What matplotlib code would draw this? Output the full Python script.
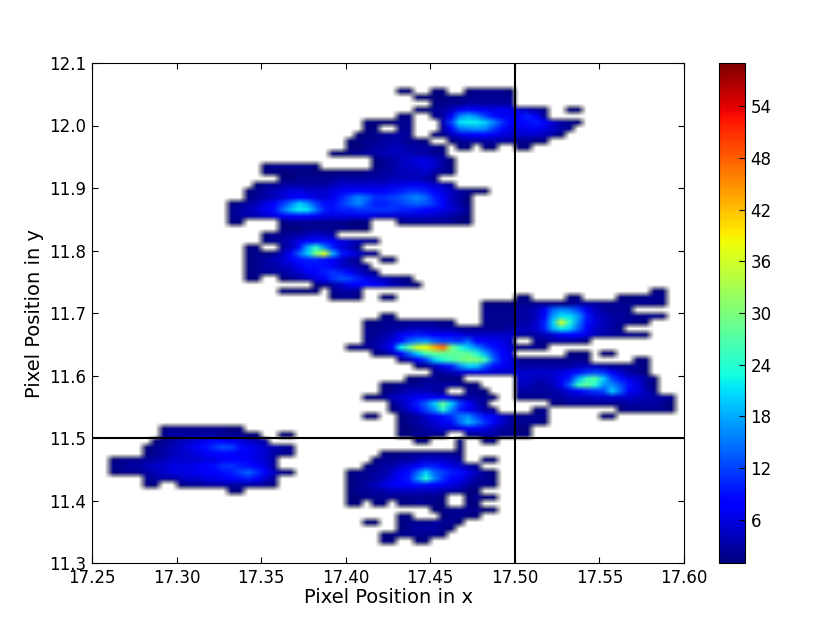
import matplotlib
matplotlib.use('Agg')
import matplotlib.pyplot as plt
import numpy as np

# bin edges of the 2d histogram
x_min, x_max, n_x = 17.25, 17.60, 70
y_min, y_max, n_y = 11.3, 12.1, 80

# counts, each entry is (row, first column, counts)
lower_left = [
    (21, 8, [1, 2, 2, 2, 2, 2, 2, 2, 1, 1]),
    (20, 8, [2, 3, 3, 3, 3, 3, 3, 2, 2, 2, 1, 1]), (20, 22, [1, 1]),
    (19, 7, [1, 2, 3, 4, 5, 6, 7, 9, 8, 7, 6, 5, 4, 3]),
    (18, 6, [1, 2, 3, 4, 5, 6, 7, 9, 11, 13, 12, 9, 7, 6, 5, 4, 3, 2]),
    (17, 6, [1, 2, 3, 4, 5, 5, 6, 7, 8, 8, 8, 7, 7, 6, 5, 3, 2, 2]),
    (16, 2, [1, 2, 2, 2, 3, 3, 4, 5, 5, 5, 5, 6, 6, 7, 8, 8, 7, 6, 5, 3]),
    (15, 2, [2, 2, 3, 3, 4, 5, 5, 6, 6, 6, 7, 8, 9, 11, 11, 10, 9, 8, 6, 3]),
    (14, 2, [1, 2, 2, 2, 3, 4, 5, 6, 6, 6, 7, 7, 8, 9, 10, 12, 14, 11, 8, 4, 2, 1]),
    (13, 6, [2, 3, 3, 3, 4, 5, 5, 6, 6, 7, 8, 9, 10, 8, 5, 3]),
    (12, 6, [1, 1]), (12, 10, [1, 2, 2, 3, 3, 3, 3, 3, 3, 3, 2, 1]),
    (11, 16, [1, 1]),
]

bottom_center = [
    (19, 38, [1, 1]), (19, 43, [1]), (19, 46, [1, 1]),
    (18, 43, [1]),
    (17, 34, [1, 1, 1, 2, 2, 2, 2, 2, 2, 1]),
    (16, 33, [1, 2, 2, 3, 3, 4, 5, 5, 5, 4, 3]), (16, 46, [1, 1]),
    (15, 32, [1, 2, 3, 3, 5, 6, 8, 10, 10, 8, 6, 5, 3, 2]),
    (14, 30, [1, 2, 2, 3, 3, 5, 7, 9, 14, 20, 14, 12, 10, 9, 6, 4, 2, 1]),
    (13, 30, [1, 2, 2, 3, 4, 6, 8, 10, 17, 24, 16, 11, 8, 7, 5, 3, 2, 1]),
    (12, 30, [1, 2, 3, 4, 6, 7, 8, 8, 9, 9, 8, 7, 6, 5, 3, 2, 2, 1]),
    (11, 30, [1, 2, 2, 3, 3, 4, 4, 4, 4, 4, 4, 3, 3, 2, 1, 1]),
    (10, 30, [1, 1, 2, 2, 2, 2, 2, 2, 2, 2, 2, 1]), (10, 44, [1, 2, 1, 1]),
    (9, 30, [1, 1, 0, 1, 1, 0, 1, 1, 2, 2, 1, 1]), (9, 44, [1, 1]),
    (8, 40, [1, 1, 2, 2, 2, 2, 1, 1]),
    (7, 36, [1, 1]), (7, 41, [1, 2, 2, 1, 1]),
    (6, 32, [1, 1]), (6, 36, [1, 2, 2, 2, 3, 2, 2, 1]),
    (5, 36, [1, 2, 3, 3, 3, 2, 1]),
    (4, 34, [1, 1, 2, 2, 2, 2, 2, 1]),
    (3, 34, [1, 1]), (3, 38, [1, 1]),
]

mid_lower = [
    (29, 37, [1, 1, 2, 2, 1, 1, 1]),
    (28, 34, [1, 1, 2, 2, 2, 3, 3, 3, 3, 2, 1, 1]),
    (27, 34, [1, 2, 3, 4, 4, 4, 3, 2]), (27, 44, [2, 2, 1]),
    (26, 32, [1, 1, 2, 4, 5, 6, 7, 7, 7, 7, 5, 3, 3, 3, 2, 1]),
    (25, 35, [2, 4, 6, 10, 14, 20, 28, 20, 12, 8, 4, 2]),
    (24, 35, [1, 3, 5, 8, 12, 16, 24, 16, 10, 7, 5, 3, 2]),
    (23, 32, [1, 1]), (23, 36, [1, 2, 3, 5, 7, 9, 11, 15, 16, 12, 9, 7, 5, 3]),
    (22, 36, [1, 2, 3, 4, 5, 7, 9, 14, 19, 15, 11, 8, 5, 3]),
    (21, 36, [1, 1, 2, 3, 4, 5, 5, 6, 7, 7, 6, 4, 3, 2]),
    (20, 36, [1, 1, 2, 2, 2, 1]), (20, 44, [2, 2, 3, 3, 2, 2, 1, 1]),
]

mid_right = [
    (33, 56, [1, 1, 1]), (33, 60, [1, 1]),
    (32, 50, [2, 2, 2, 2, 2, 2, 2, 2, 1]), (32, 64, [1, 1]),
    (31, 50, [3, 3, 3, 3, 3, 3, 3, 4, 4, 4, 3, 2, 2, 2, 2, 1]),
    (30, 50, [5, 5, 5, 5, 5, 6, 7, 9, 11, 12, 11, 7, 5, 3, 2, 1]),
    (29, 50, [5, 5, 4, 4, 5, 7, 10, 18, 25, 27, 20, 12, 9, 6, 5, 3, 1]),
    (28, 50, [4, 4, 3, 3, 4, 7, 14, 25, 28, 24, 17, 16, 13, 9, 6, 3, 1]),
    (27, 50, [3, 3, 3, 3, 3, 4, 6, 8, 10, 11, 12, 20, 14, 7, 6, 4, 2]),
    (26, 50, [2, 2, 2, 2, 3, 3, 4, 4, 4, 5, 5, 5, 5, 5, 4, 4, 3, 3, 2]),
    (25, 54, [1, 1, 2, 2, 2, 2, 2, 2, 2, 3, 3, 3, 3, 2, 1]),
    (24, 62, [1, 2, 2, 2, 2, 2, 1]), (24, 52, [1, 2]),
    (23, 60, [1, 1]), (23, 50, [2, 2, 2, 2]),
    (22, 50, [2, 2, 2, 1]),
    (21, 50, [1, 1]),
]

upper_right = [
    (43, 66, [1, 1]),
    (42, 50, [1, 1]), (42, 56, [1, 1]), (42, 62, [1, 1, 1, 2, 2, 2]),
    (41, 46, [1, 1, 1, 1, 2, 2, 2, 2, 2, 2, 2, 3, 3, 3, 2, 2, 2, 2, 2, 2, 2, 1]),
    (40, 46, [2, 2, 2, 2, 3, 3, 4, 7, 14, 16, 15, 12, 7, 4, 3, 2, 2, 2]),
    (39, 46, [2, 2, 2, 2, 3, 3, 4, 8, 17, 21, 21, 17, 10, 5, 4, 3, 3, 2, 2, 2, 2, 1]),
    (38, 46, [2, 2, 2, 2, 3, 3, 5, 10, 20, 36, 24, 16, 9, 6, 4, 3, 2, 2, 1, 1]),
    (37, 50, [4, 4, 5, 10, 18, 22, 20, 14, 8, 5, 4, 3, 2]),
    (36, 50, [3, 3, 3, 4, 5, 7, 8, 8, 6, 4, 3, 3, 2, 2, 2, 1]),
    (35, 52, [2, 2, 3, 3, 3, 2, 1]),
    (34, 50, [1, 2, 2, 1]),
]

bright_band = [
    (39, 34, [1, 1]),
    (38, 32, [1, 1, 2, 2, 2, 2, 2, 2, 2, 1, 1]),
    (37, 32, [2, 2, 2, 3, 3, 4, 4, 4, 4, 3, 3, 2, 2, 2, 2, 2, 2, 3]),
    (36, 32, [2, 2, 3, 4, 7, 9, 10, 9, 8, 8, 7, 6, 5, 5, 5, 5, 5, 5]),
    (35, 32, [2, 3, 4, 6, 9, 14, 16, 17, 14, 12, 12, 11, 14, 8, 7, 7, 6, 5]),
    (34, 30, [1, 2, 2, 3, 5, 8, 22, 28, 36, 38, 43, 47, 30, 24, 20, 16, 12, 9, 7, 5]),
    (33, 33, [1, 2, 4, 8, 14, 20, 26, 28, 28, 28, 28, 28, 24, 18, 12, 8, 6]),
    (32, 36, [2, 4, 8, 12, 20, 24, 26, 28, 30, 30, 26, 14, 9, 6]),
    (31, 38, [1, 2, 4, 7, 10, 16, 20, 20, 13, 9, 7, 6]),
    (30, 40, [2, 3, 4, 5, 6, 6, 6, 5, 5, 5]),
]

upper_left = [
    (53, 22, [1, 1, 1, 2, 2, 2, 2, 2, 1, 1, 1]),
    (52, 20, [1, 2, 2, 3, 3, 4, 5, 4, 3]),
    (51, 20, [1, 2, 3, 4, 6, 8, 9, 9, 8, 6, 5, 4, 3, 2]),
    (50, 18, [1, 1]), (50, 22, [2, 4, 9, 18, 24, 16, 10, 6, 4, 2]),
    (49, 18, [1, 2, 1]), (49, 21, [2, 4, 8, 14, 20, 30, 36, 18, 10, 7, 5, 3, 2]),
    (48, 18, [1, 2, 3, 4, 5, 7, 9, 10, 10, 9, 7, 5, 3, 2]), (48, 34, [1, 1]),
    (47, 18, [1, 2, 3, 3, 4, 5, 7, 9, 9, 9, 7, 5, 4, 3, 2]),
    (46, 18, [1, 2, 2, 3, 3, 4, 5, 7, 8, 10, 11, 10, 8, 5, 3, 2]),
    (45, 18, [1, 1]), (45, 22, [1, 2, 3, 4, 6, 8, 11, 13, 12, 10, 7, 5, 4, 3, 2, 1]),
    (44, 26, [1, 2, 3, 5, 7, 8, 9, 8, 6, 4, 3, 2, 1]),
    (43, 22, [1, 1, 1, 1, 1]), (43, 28, [2, 3, 3, 2]),
    (42, 28, [1, 2, 2, 1]), (42, 34, [1, 1]),
]

upper_band = [
    (71, 36, [1, 1]),
    (70, 32, [1, 1, 1, 1, 2, 2]),
    (69, 32, [1, 1]), (69, 36, [2, 2]),
    (68, 31, [1, 1, 2, 2, 3, 3, 2]),
    (67, 30, [1, 1, 2, 2, 3, 3, 3, 2, 2, 1]),
    (66, 30, [1, 1, 2, 3, 3, 4, 4, 3, 3, 3, 2, 1]),
    (65, 28, [1, 1, 1, 2, 3, 3, 4, 4, 4, 4, 3, 3, 2, 2]),
    (64, 33, [1, 2, 3, 4, 5, 6, 6, 5, 3, 1]),
    (63, 20, [1, 2, 2, 2, 2, 2, 1]), (63, 33, [1, 2, 3, 4, 5, 5, 6, 5, 3, 1]),
    (62, 20, [1, 1, 1, 1, 1, 1, 1, 1, 1, 1, 1, 1, 2, 2, 3, 3, 4, 4, 4, 5, 3, 2, 1]),
    (61, 22, [1, 1, 2, 2, 2, 2, 2, 3, 3, 3, 3, 3, 3, 4, 4, 4, 4, 3, 2]),
    (60, 19, [1, 2, 2, 3, 3, 3, 3, 3, 3, 4, 5, 5, 5, 5, 5, 5, 6, 6, 7, 7, 6, 5, 4, 3]),
    (59, 18, [1, 2, 3, 4, 5, 6, 6, 5, 5, 5, 6, 7, 8, 8, 8, 7, 8, 9, 10, 11, 11, 10, 8, 6, 4, 3, 2, 1, 1]),
    (58, 18, [1, 2, 3, 4, 5, 7, 8, 7, 6, 5, 7, 10, 13, 16, 14, 11, 11, 12, 13, 15, 16, 14, 10, 7, 4, 3, 1]),
    (57, 16, [1, 2, 3, 4, 6, 8, 11, 15, 20, 17, 12, 9, 9, 11, 14, 16, 13, 10, 10, 11, 12, 13, 14, 13, 11, 8, 5, 3, 1]),
    (56, 16, [2, 3, 4, 5, 7, 9, 14, 19, 22, 21, 15, 10, 9, 10, 10, 11, 11, 11, 11, 11, 10, 10, 9, 8, 7, 6, 5, 4, 2]),
    (55, 16, [2, 3, 3, 4, 5, 6, 7, 8, 8, 8, 7, 6, 6, 6, 6, 6, 6, 6, 5, 5, 5, 5, 5, 5, 4, 4, 3, 2, 1]),
    (54, 16, [1, 1]), (54, 22, [1, 2, 2, 2, 2, 2, 2, 2, 1, 1, 1]), (54, 36, [1, 2, 2, 2, 2, 2, 2, 1, 1]),
]

top_right = [
    (75, 36, [1, 1]), (75, 40, [1, 1]), (75, 44, [1, 2, 2, 2, 2, 1]),
    (74, 38, [1, 1, 1, 1, 1, 1, 2, 2, 2, 2, 2, 2]),
    (73, 40, [1, 2, 2, 2, 3, 3, 3, 3, 3, 3]),
    (72, 38, [1, 1, 2, 3, 4, 7, 9, 8, 7, 6, 7, 6, 5, 4, 3, 1]), (72, 56, [1, 1]),
    (71, 40, [2, 3, 8, 16, 18, 16, 12, 9, 7, 7, 8, 10, 8, 3]),
    (70, 41, [4, 12, 21, 22, 22, 20, 16, 11, 8, 8, 9, 10, 8, 5, 3, 2, 1]),
    (69, 41, [3, 8, 15, 16, 17, 16, 12, 9, 6, 6, 7, 7, 6, 5, 3, 2]),
    (68, 40, [1, 2, 4, 6, 7, 8, 8, 7, 6, 5, 5, 5, 5, 4, 3, 1]),
    (67, 42, [1, 2, 3, 3, 3, 3, 3, 3, 2, 2, 1, 1]),
    (66, 43, [1, 1]), (66, 46, [1, 1]), (66, 50, [1, 1]),
]

clusters = [lower_left, bottom_center, mid_lower, mid_right, upper_right,
            bright_band, upper_left, upper_band, top_right]

x_ticks = [17.25, 17.30, 17.35, 17.40, 17.45, 17.50, 17.55, 17.60]
y_ticks = [11.3, 11.4, 11.5, 11.6, 11.7, 11.8, 11.9, 12.0, 12.1]
cbar_ticks = [6, 12, 18, 24, 30, 36, 42, 48, 54]

counts = np.zeros((n_y, n_x))
for cluster in clusters:
    for row, col, vals in cluster:
        counts[row, col:col + len(vals)] = vals
counts = np.ma.masked_equal(counts, 0)

fig = plt.figure(figsize=(8.3, 6.26), dpi=100)
ax = fig.add_axes([92 / 830, 63 / 626, 592 / 830, 500 / 626])
im = ax.imshow(counts, origin='lower', aspect='auto', cmap='jet',
               interpolation='bilinear', interpolation_stage='rgba', vmin=1, vmax=59,
               extent=[x_min, x_max, y_min, y_max])
ax.axvline(17.5, color='k', lw=1.5)
ax.axhline(11.5, color='k', lw=1.5)

ax.set_xlim(x_min, x_max)
ax.set_ylim(y_min, y_max)
ax.set_xticks(x_ticks)
ax.set_xticklabels(['%.2f' % t for t in x_ticks])
ax.set_yticks(y_ticks)
ax.set_yticklabels(['%.1f' % t for t in y_ticks])
ax.tick_params(direction='in', top=True, right=True, length=4, labelsize=12, pad=4)
ax.set_xlabel('Pixel Position in x', fontsize=14, labelpad=1)
ax.set_ylabel('Pixel Position in y', fontsize=14, labelpad=4)

cax = fig.add_axes([719 / 830, 63 / 626, 26 / 830, 500 / 626])
cbar = fig.colorbar(im, cax=cax, ticks=cbar_ticks)
cbar.ax.tick_params(direction='in', length=4, labelsize=12, pad=4)

fig.savefig('out.png', dpi=100)
